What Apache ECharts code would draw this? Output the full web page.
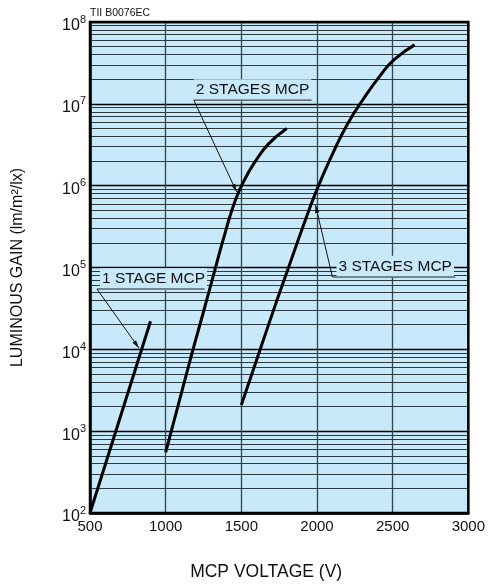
<!DOCTYPE html>
<html>
<head>
<meta charset="utf-8">
<script src="https://cdn.jsdelivr.net/npm/echarts@6/dist/echarts.min.js"></script>
<style>
html, body { margin: 0; padding: 0; background: #fff; }
#chart { width: 488px; height: 588px; }
</style>
</head>
<body>
<div id="chart"></div>
<script>
// MCP voltage (V) -> luminous gain (lm/m2/lx)
var oneStageV = [500, 900];
var oneStageGain = [100, 22000];
var twoStageV = [1000, 1160, 1250, 1325, 1400, 1460, 1520, 1590, 1680, 1800];
var twoStageGain = [550, 7200, 28800, 93000, 295000, 660000, 1170000, 1950000, 3240000, 5000000];
var threeStageV = [1500, 1630, 1740, 1820, 1900, 2000, 2110, 2200, 2310, 2420, 2510, 2645];
var threeStageGain = [2090, 10700, 42000, 110000, 290000, 900000, 2600000, 5600000, 11700000, 22400000, 34700000, 52500000];

var decades = [2, 3, 4, 5, 6, 7];
var minorSteps = [2, 3, 4, 5, 6, 7, 8, 9];

// labels: text, left-middle anchor, underline [v1, v2, gain], arrow tip
var noteText = ["1 STAGE MCP", "2 STAGES MCP", "3 STAGES MCP"];
var noteAt = [[566, 72000], [1186, 14700000], [2129, 102000]];
var noteUnder = [[546, 1258, 54600], [1186, 1964, 11100000], [2102, 2914, 76500]];
var noteTip = [[823, 10400], [1469, 840000], [1990, 580000]];

var FONT = "Liberation Sans, Arial, Helvetica, sans-serif";
var PLOT_BG = "#c7e9f9";

function zip(xs, ys) {
  return xs.map(function (x, i) { return [x, ys[i]]; });
}

var minorLines = [];
decades.forEach(function (d) {
  minorSteps.forEach(function (m) {
    minorLines.push({ yAxis: m * Math.pow(10, d) });
  });
});

var curveStyle = { color: "#000", width: 3 };

var chart = echarts.init(document.getElementById("chart"));
var option = {
  animation: false,
  title: {
    text: "TII B0076EC",
    left: 85,
    top: 3,
    textStyle: { fontFamily: FONT, fontSize: 10.5, fontWeight: "normal", color: "#111" }
  },
  grid: {
    left: 90, right: 19, top: 22, bottom: 75,
    show: true,
    backgroundColor: PLOT_BG,
    borderColor: "#000",
    borderWidth: 0
  },
  xAxis: {
    type: "value",
    min: 500, max: 3000, interval: 500,
    name: "MCP VOLTAGE (V)",
    nameLocation: "middle",
    nameGap: 50,
    nameTextStyle: { fontFamily: FONT, fontSize: 17.5, color: "#111", padding: [0, 26, 0, 0] },
    axisLine: { show: true, lineStyle: { color: "#000", width: 2.5 } },
    axisTick: { show: false },
    axisLabel: {
      fontFamily: FONT, fontSize: 15, color: "#111", margin: 6,
      formatter: function (v) { return String(v); }
    },
    splitLine: { show: true, lineStyle: { color: "#34454b", width: 1.3 } }
  },
  yAxis: {
    type: "log",
    logBase: 10,
    min: 100, max: 100000000,
    splitNumber: 6,
    name: "LUMINOUS GAIN (lm/m²/lx)",
    nameLocation: "middle",
    nameRotate: 90,
    nameGap: 64,
    nameTextStyle: { fontFamily: FONT, fontSize: 16, color: "#111" },
    axisLine: { show: true, lineStyle: { color: "#000", width: 2.5 } },
    axisTick: { show: false },
    axisLabel: {
      margin: 4,
      formatter: function (v) {
        return "{b|10}{s|" + Math.round(Math.log10(v)) + "}";
      },
      rich: {
        b: { fontFamily: FONT, fontSize: 16, color: "#111", verticalAlign: "bottom", padding: [0, 0, -4, 0] },
        s: { fontFamily: FONT, fontSize: 11, color: "#111", verticalAlign: "bottom", padding: [0, 0, 5, 0] }
      }
    },
    splitLine: { show: true, lineStyle: { color: "#000", width: 1.3 } }
  },
  series: [
    {
      type: "line",
      data: zip(oneStageV, oneStageGain),
      showSymbol: false,
      lineStyle: curveStyle,
      z: 5,
      markLine: {
        silent: true,
        symbol: "none",
        label: { show: false },
        lineStyle: { type: "solid", color: "#2d3a40", width: 1.2 },
        data: minorLines,
        z: 1
      }
    },
    {
      type: "line",
      data: zip(twoStageV, twoStageGain),
      smooth: 0.5,
      showSymbol: false,
      lineStyle: curveStyle,
      z: 5
    },
    {
      type: "line",
      data: zip(threeStageV, threeStageGain),
      smooth: 0.5,
      showSymbol: false,
      lineStyle: curveStyle,
      z: 5
    }
  ]
};
chart.setOption(option);

// frame + annotations placed through the chart's own scales
function px(p) { return chart.convertToPixel({ gridIndex: 0 }, p); }

var graphics = [];
var g0 = px([500, 100000000]);
var g1 = px([3000, 100]);
graphics.push({
  type: "rect", z: 50, silent: true,
  shape: { x: g0[0], y: g0[1], width: g1[0] - g0[0], height: g1[1] - g0[1] },
  style: { fill: null, stroke: "#000", lineWidth: 2.5 }
});

noteText.forEach(function (t, i) {
  var a = px(noteAt[i]);
  var u1 = px([noteUnder[i][0], noteUnder[i][2]]);
  var u2 = px([noteUnder[i][1], noteUnder[i][2]]);
  var tip = px(noteTip[i]);
  graphics.push({
    type: "text", z: 60, silent: true,
    x: a[0], y: a[1],
    style: {
      text: t, font: "15.5px " + FONT, fill: "#111",
      textAlign: "left", textVerticalAlign: "middle",
      backgroundColor: PLOT_BG, padding: [3, 2, 3, 2]
    }
  });
  graphics.push({
    type: "line", z: 61, silent: true,
    shape: { x1: u1[0], y1: u1[1], x2: u2[0], y2: u2[1] },
    style: { stroke: "#222", lineWidth: 1 }
  });
  graphics.push({
    type: "line", z: 61, silent: true,
    shape: { x1: u1[0], y1: u1[1], x2: tip[0], y2: tip[1] },
    style: { stroke: "#111", lineWidth: 1 }
  });
  // arrow head
  var dx = tip[0] - u1[0], dy = tip[1] - u1[1];
  var len = Math.sqrt(dx * dx + dy * dy);
  var ux = dx / len, uy = dy / len;
  var L = 8, W = 2.2;
  var bx = tip[0] - ux * L, by = tip[1] - uy * L;
  graphics.push({
    type: "polygon", z: 62, silent: true,
    shape: { points: [[tip[0], tip[1]], [bx - uy * W, by + ux * W], [bx + uy * W, by - ux * W]] },
    style: { fill: "#111" }
  });
});

chart.setOption({ graphic: graphics });
</script>
</body>
</html>
